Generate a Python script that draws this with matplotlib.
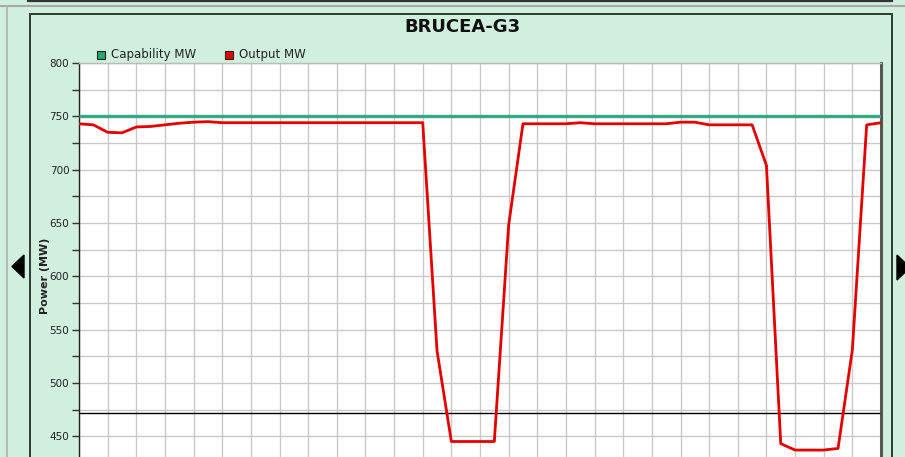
import matplotlib
matplotlib.use("Agg")
import matplotlib.pyplot as plt
from matplotlib.lines import Line2D
from matplotlib.patches import Rectangle, Polygon
from matplotlib.ticker import MultipleLocator, FuncFormatter

# ---- data ----
title = "BRUCEA-G3"
y_label = "Power (MW)"
series_names = ["Capability MW", "Output MW"]
time_idx = list(range(57))  # half-grid sample index
output_mw = [743, 742, 735, 734.5, 740, 740.5, 742, 743.5, 744.5, 745,
             744, 744, 744, 744, 744, 744, 744, 744, 744, 744,
             744, 744, 744, 744, 744, 530, 445, 445, 445, 445,
             648, 743, 743, 743, 743, 744, 743, 743, 743, 743,
             743, 743, 744.5, 744.5, 742, 742, 742, 742, 704, 443,
             437, 437, 437, 438.5, 531, 742, 744]
capability_mw = 750
min_line_mw = 472
y_min, y_max = 400, 800
y_major = 50
y_minor = 25
lowest_visible_label = 450

W, H = 905, 457
fig = plt.figure(figsize=(W / 100, H / 100), dpi=100)
fig.patch.set_facecolor("#d1efdf")

def fx(x):
    return x / W

def fy(y):
    return 1 - y / H

# frame decorations (figure pixel coordinates)
fig.add_artist(Line2D([fx(28), fx(892)], [fy(0.8), fy(0.8)], color="#333333", lw=1.6, transform=fig.transFigure))
fig.add_artist(Line2D([fx(0), fx(905)], [fy(5.5), fy(5.5)], color="#a8a8a8", lw=1.5, transform=fig.transFigure))
fig.add_artist(Line2D([fx(6.5), fx(6.5)], [fy(6), fy(460)], color="#b0b0b0", lw=1.2, transform=fig.transFigure))
fig.add_artist(Rectangle((fx(29.5), fy(470)), fx(891.5) - fx(29.5), fy(13.5) - fy(470),
                         fill=False, edgecolor="#2f3a33", lw=1.4, transform=fig.transFigure))
fig.add_artist(Polygon([[fx(12), fy(266.5)], [fx(24), fy(255)], [fx(24), fy(278)]],
                       closed=True, color="black", transform=fig.transFigure))
fig.add_artist(Polygon([[fx(897), fy(255)], [fx(897), fy(280)], [fx(910), fy(267.5)]],
                       closed=True, color="black", transform=fig.transFigure))

# axes
ax_left, ax_right, ax_top, ax_bottom = 79, 881, 63, 489.5
ax = fig.add_axes([fx(ax_left), fy(ax_bottom), (ax_right - ax_left) / W, (ax_bottom - ax_top) / H])
ax.set_facecolor("white")

ax.plot(time_idx, [capability_mw] * len(time_idx), color="#33aa84", lw=2.4, zorder=3,
        solid_capstyle="butt")
ax.plot(time_idx, output_mw, color="#e40000", lw=2.0, zorder=4)
ax.axhline(min_line_mw, color="black", lw=1.0, zorder=3, xmax=0.997)

ax.set_xlim(time_idx[0], time_idx[-1])
ax.set_ylim(y_min, y_max)
ax.xaxis.set_major_locator(MultipleLocator(2))
ax.yaxis.set_major_locator(MultipleLocator(y_major))
ax.yaxis.set_minor_locator(MultipleLocator(y_minor))
ax.yaxis.set_major_formatter(FuncFormatter(lambda v, p: f"{v:.0f}" if v >= lowest_visible_label else ""))
ax.grid(True, which="both", color="#c9c9c9", lw=1.0, zorder=0)
ax.set_axisbelow(True)
ax.tick_params(axis="x", length=0, labelbottom=False)
ax.tick_params(axis="y", which="both", length=5, width=1, color="#333333", direction="out",
               labelsize=7.5, pad=2, labelcolor="#222222")

ax.spines["top"].set_color("#bbbbbb")
ax.spines["top"].set_linewidth(1.0)
ax.spines["right"].set_color("#555555")
ax.spines["right"].set_linewidth(2.2)
ax.spines["left"].set_color("#222222")
ax.spines["left"].set_linewidth(1.0)
ax.spines["bottom"].set_visible(False)

ax.set_ylabel(y_label, fontsize=8, fontweight="bold", color="#222222")
ax.yaxis.set_label_coords((50 - ax_left) / (ax_right - ax_left), 0.5)

fig.text(fx(462), fy(27), title, ha="center", va="center", fontsize=13,
         fontweight="bold", color="#111111")

# legend
leg_colors = ["#22a86e", "#e40000"]
leg_x = [96.5, 224.5]
for name, c, lx in zip(series_names, leg_colors, leg_x):
    fig.add_artist(Rectangle((fx(lx), fy(58.5)), 8 / W, 8 / H, facecolor=c, edgecolor="#222222",
                             lw=0.8, transform=fig.transFigure))
    fig.text(fx(lx + 14), fy(54.5), name, ha="left", va="center", fontsize=8.5, color="#222222")

fig.savefig("out.png", dpi=100, facecolor=fig.get_facecolor())
